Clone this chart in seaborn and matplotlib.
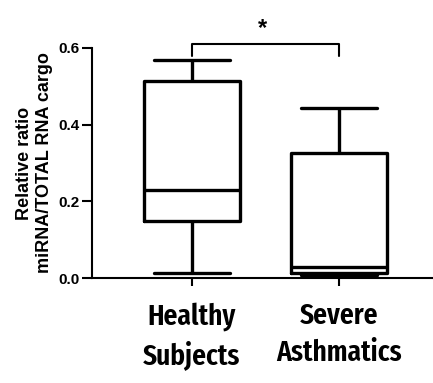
import pandas as pd
import matplotlib
matplotlib.use("Agg")
import matplotlib.pyplot as plt
import seaborn as sns

# Valores (min, Q1, mediana, Q3, max)
groups = ["Healthy\nSubjects", "Severe\nAsthmatics"]
healthy = [0.012, 0.149, 0.230, 0.514, 0.569]
severe = [0.007, 0.014, 0.030, 0.325, 0.442]
yticks = [0.0, 0.2, 0.4, 0.6]

df = pd.DataFrame({
    "group": [groups[0]] * len(healthy) + [groups[1]] * len(severe),
    "ratio": healthy + severe,
})

sns.set_style("ticks")
plt.rcParams["font.family"] = ["Liberation Sans", "Arimo", "DejaVu Sans"]
for k in ["text.color", "axes.labelcolor", "xtick.color", "ytick.color", "axes.edgecolor"]:
    plt.rcParams[k] = "black"

fig = plt.figure(figsize=(4.33, 3.83), dpi=100)
ax = fig.add_axes([0.2125, 0.274, 0.7875, 0.601])

sns.boxplot(data=df, x="group", y="ratio", whis=(0, 100), width=0.65,
            fill=False, color="black", linewidth=2.4, capwidths=0.52, ax=ax)

ax.set_xlim(-0.68, 1.64)
ax.set_ylim(0, 0.6)
ax.set_yticks(yticks)
ax.set_yticklabels([f"{v:.1f}" for v in yticks], fontweight="bold", fontsize=11)
ax.set_xlabel("")
ax.set_ylabel("Relative ratio\nmiRNA/TOTAL RNA cargo", fontweight="bold",
              fontsize=13, labelpad=4)
ax.set_xticks([0, 1])
ax.set_xticklabels(groups, fontsize=21.5, fontweight=600, linespacing=1.4,
                   family=["Fira Sans Extra Condensed", "Carlito", "DejaVu Sans"])
ax.tick_params(axis="x", length=6, width=1.5, pad=11)
ax.tick_params(axis="y", length=7, width=1.5, pad=2)
for s in ["top", "right"]:
    ax.spines[s].set_visible(False)
for s in ["left", "bottom"]:
    ax.spines[s].set_linewidth(1.5)

# Barra de significância
ax.plot([0, 0, 1, 1], [0.58, 0.61, 0.61, 0.58], color="black", lw=1.5, clip_on=False)
ax.text(0.48, 0.65, "*", ha="center", va="center", fontsize=17, fontweight="bold")

plt.savefig("out.png", dpi=100)
